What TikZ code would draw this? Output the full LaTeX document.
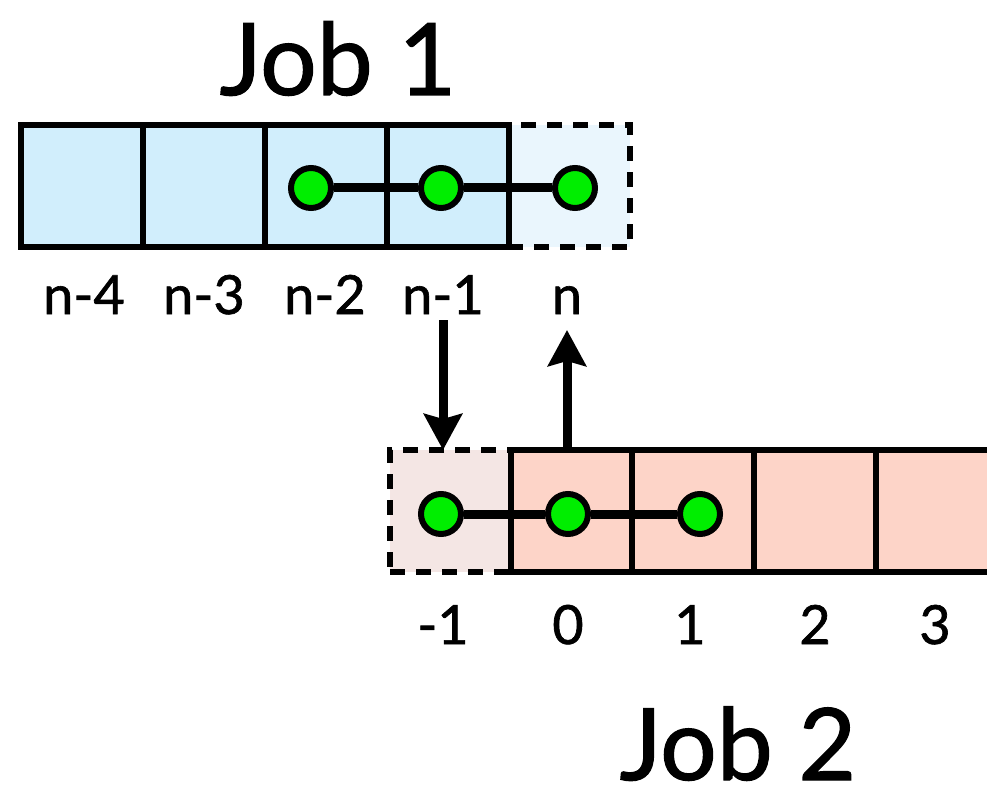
\documentclass[tikz,border=0pt]{standalone}
\usepackage{fontspec}
\setmainfont{Lato}[FakeBold=1.2]
\usetikzlibrary{arrows.meta,shapes.geometric}
\definecolor{cellblue}{RGB}{209,238,252}
\definecolor{cellbluelight}{RGB}{234,246,253}
\definecolor{cellred}{RGB}{253,212,200}
\definecolor{cellredlight}{RGB}{244,230,228}
\definecolor{dotgreen}{RGB}{0,238,0}
\tikzset{
  cell/.style={draw=black, line width=6.5pt, minimum width=122pt, minimum height=122pt, inner sep=0pt, outer sep=0pt},
  dashcell/.style={cell, dash pattern=on 15pt off 11pt},
  dot/.style={circle, draw=black, fill=dotgreen, line width=6pt, minimum size=40pt, inner sep=0pt},
  link/.style={line width=9pt},
  idx/.style={font=\fontsize{54}{54}\selectfont, inner sep=0pt, anchor=base},
  title/.style={font=\fontsize{100}{100}\selectfont, inner sep=0pt, anchor=base},
  flow/.style={line width=9pt, -{Stealth[width=38pt,length=36pt,inset=5pt]}},
}
\begin{document}
\begin{tikzpicture}[x=1pt,y=-1pt]
\useasboundingbox (0,0) rectangle (987,805);
% Job 1 row
\node[dashcell, fill=cellbluelight] (t5) at (569,186) {};
\node[cell, fill=cellblue] (t1) at (82,186) {};
\node[cell, fill=cellblue] (t2) at (204,186) {};
\node[cell, fill=cellblue] (t3) at (326,186) {};
\node[cell, fill=cellblue] (t4) at (448,186) {};
% Job 2 row
\node[dashcell, fill=cellredlight] (b0) at (451,511) {};
\node[cell, fill=cellred] (b1) at (572,511) {};
\node[cell, fill=cellred] (b2) at (693,511) {};
\node[cell, fill=cellred] (b3) at (815,511) {};
\node[cell, fill=cellred] (b4) at (937,511) {};
% dots
\node[dot] (d1) at (311,188) {};
\node[dot] (d2) at (441,188) {};
\node[dot] (d3) at (575,188) {};
\node[dot] (e1) at (441,514) {};
\node[dot] (e2) at (568,514) {};
\node[dot] (e3) at (700,514) {};
\draw[link] (d1) -- (d2);
\draw[link] (d2) -- (d3);
\draw[link] (e1) -- (e2);
\draw[link] (e2) -- (e3);
% labels
\node[idx] (l1) at (84,314) {n-4};
\node[idx] (l2) at (204,314) {n-3};
\node[idx] (l3) at (325,314) {n-2};
\node[idx] (l4) at (443,314) {n-1};
\node[idx] (l5) at (567,314) {n};
\node[idx] (m0) at (443,644) {-1};
\node[idx] (m1) at (568,644) {0};
\node[idx] (m2) at (690,644) {1};
\node[idx] (m3) at (815,644) {2};
\node[idx] (m4) at (935,644) {3};
% titles
\node[title] (job1) at (338,95) {Job 1};
\node[title] (job2) at (738,780) {Job 2};
% arrows
\coordinate (a1) at (443,320);
\coordinate (a2) at (567,451);
\draw[flow] (a1) -- (a1 |- b0.north);
\draw[flow] (a2) -- (567,330);
\end{tikzpicture}
\end{document}
